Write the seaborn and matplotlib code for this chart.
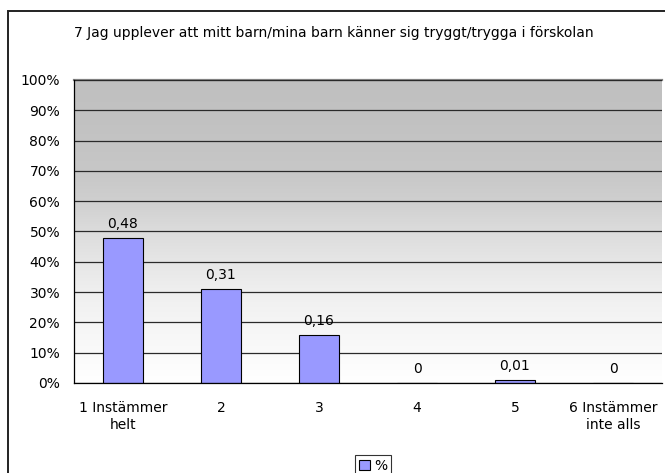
import matplotlib
matplotlib.use("Agg")
import matplotlib.pyplot as plt
import matplotlib.patches as mpatches
from matplotlib.colors import LinearSegmentedColormap
import seaborn as sns
import pandas as pd
import numpy as np

# data
categories = ["1 Instämmer\nhelt", "2", "3", "4", "5", "6 Instämmer\ninte alls"]
values = [0.48, 0.31, 0.16, 0.0, 0.01, 0.0]
value_labels = ["0,48", "0,31", "0,16", "0", "0,01", "0"]
y_ticks = [0, 0.1, 0.2, 0.3, 0.4, 0.5, 0.6, 0.7, 0.8, 0.9, 1.0]
y_tick_labels = ["0%", "10%", "20%", "30%", "40%", "50%", "60%", "70%", "80%", "90%", "100%"]
title = "7 Jag upplever att mitt barn/mina barn känner sig tryggt/trygga i förskolan"
series_name = "%"

sns.set_style("white")
plt.rcParams["font.family"] = ["DejaVu Sans"]
plt.rcParams["font.size"] = 10
plt.rcParams["text.color"] = "black"
plt.rcParams["xtick.color"] = "black"
plt.rcParams["ytick.color"] = "black"

df = pd.DataFrame({"cat": categories, "val": values})

W, H = 665, 473
fig = plt.figure(figsize=(W / 100, H / 100), dpi=100)
fig.patch.set_facecolor("white")

# outer chart frame (right and bottom run off the image)
frame = mpatches.Rectangle((8 / W, -0.05), 1.2, 1 - 11 / H + 0.05, transform=fig.transFigure,
                           fill=False, edgecolor="#222222", linewidth=1.4)
fig.patches.append(frame)

ax = fig.add_axes([74 / W, 1 - 383 / H, (662 - 74) / W, (383 - 80) / H])

# gradient background of the plot area
grad = np.linspace(0, 1, 256).reshape(-1, 1)
cmap = LinearSegmentedColormap.from_list(
    "bg", [(0.0, "#ffffff"), (0.1, "#fafafa"), (0.2, "#f5f5f5"), (0.3, "#efefef"),
           (0.4, "#e6e6e6"), (0.5, "#dcdcdc"), (0.6, "#cfcfcf"), (0.7, "#c7c7c7"),
           (0.85, "#c2c2c2"), (1.0, "#c0c0c0")])
ax.imshow(grad, cmap=cmap, origin="lower", aspect="auto", extent=[0, 1, 0, 1],
          transform=ax.transAxes, zorder=0)

sns.barplot(data=df, x="cat", y="val", color="#9999ff", saturation=1, width=0.41,
            edgecolor="black", linewidth=0.8, ax=ax, zorder=3)

ax.bar_label(ax.containers[0], labels=value_labels, padding=5, fontsize=10, color="black")

ax.set_ylim(0, 1)
ax.set_xlim(-0.5, len(categories) - 0.5)
ax.set_yticks(y_ticks)
ax.set_yticklabels(y_tick_labels)
ax.yaxis.grid(True, color="#2a2a2a", linewidth=0.9, zorder=1)
ax.set_axisbelow(False)
for line in ax.get_ygridlines():
    line.set_zorder(1)

# category boundaries as x tick marks
ax.set_xticks(np.arange(-0.5, len(categories) - 0.4, 1.0), minor=False)
ax.set_xticklabels([])
ax.set_xticks(np.arange(len(categories)), minor=True)
ax.set_xticklabels(categories, minor=True, linespacing=1.3)
ax.tick_params(axis="x", which="minor", length=0, pad=13, labelsize=10)
ax.tick_params(axis="x", which="major", length=5, width=0.9, direction="out", color="black")
ax.tick_params(axis="y", length=5, width=0.9, direction="out", color="black", pad=5, labelsize=10)
ax.set_xlabel("")
ax.set_ylabel("")

ax.spines["left"].set_color("black")
ax.spines["bottom"].set_color("black")
ax.spines["top"].set_color("#808080")
ax.spines["top"].set_linewidth(1.6)
ax.spines["right"].set_visible(False)
for s in ["left", "bottom"]:
    ax.spines[s].set_linewidth(0.9)
    ax.spines[s].set_zorder(5)

fig.text(334 / W, 1 - 33 / H, title, ha="center", va="center", fontsize=10)

handle = mpatches.Patch(facecolor="#9999ff", edgecolor="black", linewidth=0.8, label=series_name)
leg = fig.legend(handles=[handle], loc="center", bbox_to_anchor=(373 / W, 1 - 466 / H),
                 frameon=True, fancybox=False, fontsize=10, handlelength=0.8, handleheight=0.8,
                 handletextpad=0.3, borderpad=0.3, borderaxespad=0)
leg.get_frame().set_edgecolor("black")
leg.get_frame().set_linewidth(0.8)

fig.savefig("out.png", dpi=100)
